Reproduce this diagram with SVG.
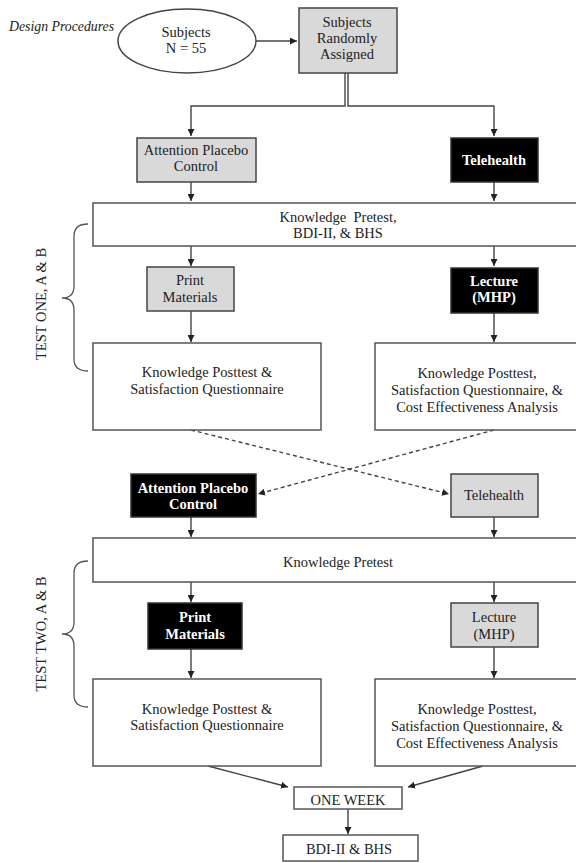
<svg xmlns="http://www.w3.org/2000/svg" width="576" height="863" viewBox="0 0 576 863">
<defs>
<marker id="ah" viewBox="0 0 10 10" refX="10" refY="5" markerWidth="7" markerHeight="7" markerUnits="userSpaceOnUse" orient="auto">
<path d="M0,0 L10,5 L0,10 z" fill="#222"/>
</marker>
<style>
text{font-family:"Liberation Serif","Times New Roman",serif;font-size:14.5px;fill:#222;text-anchor:middle}
.b{font-weight:bold;fill:#fff}
.it{font-style:italic;text-anchor:start;font-size:13.8px}
.pre{white-space:pre}
.gray{fill:#d9d9d9;stroke:#444;stroke-width:1.5}
.blk{fill:#000;stroke:#333;stroke-width:1.5}
.wht{fill:#fff;stroke:#555;stroke-width:1.5}
.c{fill:none;stroke:#444;stroke-width:1.4}
.d{fill:none;stroke:#444;stroke-width:1.4;stroke-dasharray:4 3}
.br{fill:none;stroke:#555;stroke-width:1.3}
</style>
</defs>
<rect width="576" height="863" fill="#fff"/>
<text class="it" x="9" y="31">Design Procedures</text>
<g id="connectors">
<path class="c" d="M256,41 H297" marker-end="url(#ah)"/>
<path class="c" d="M345,73 V106 H191 V136" marker-end="url(#ah)"/>
<path class="c" d="M348,73 V106 H494 V136" marker-end="url(#ah)"/>
<path class="c" d="M191,182 V201" marker-end="url(#ah)"/>
<path class="c" d="M494,182 V201" marker-end="url(#ah)"/>
<path class="c" d="M191,246 V266" marker-end="url(#ah)"/>
<path class="c" d="M494,246 V266" marker-end="url(#ah)"/>
<path class="c" d="M191,311 V342" marker-end="url(#ah)"/>
<path class="c" d="M494,313 V342" marker-end="url(#ah)"/>
<path class="d" d="M191,430 L449,494" marker-end="url(#ah)"/>
<path class="d" d="M494,430 L258,494" marker-end="url(#ah)"/>
<path class="c" d="M191,517 V537" marker-end="url(#ah)"/>
<path class="c" d="M494,517 V537" marker-end="url(#ah)"/>
<path class="c" d="M191,582 V602" marker-end="url(#ah)"/>
<path class="c" d="M494,582 V602" marker-end="url(#ah)"/>
<path class="c" d="M191,649 V678" marker-end="url(#ah)"/>
<path class="c" d="M494,647 V678" marker-end="url(#ah)"/>
<path class="c" d="M208,766 L288,787" marker-end="url(#ah)"/>
<path class="c" d="M483,766 L408,787" marker-end="url(#ah)"/>
<path class="c" d="M348,809 V834" marker-end="url(#ah)"/>
</g>
<g id="brace1">
<path class="br" d="M88,224 C78,224 74,228 74,236 V286 C74,294 70,298 62,298 C70,298 74,302 74,310 V359 C74,367 78,371 88,371"/>
<text transform="translate(46,304) rotate(-90)">TEST ONE, A &amp; B</text>
</g>
<g id="brace2">
<path class="br" d="M88,561 C78,561 74,565 74,573 V622 C74,630 70,634 62,634 C70,634 74,638 74,646 V695 C74,703 78,707 88,707"/>
<text transform="translate(46,634) rotate(-90)">TEST TWO, A &amp; B</text>
</g>
<g id="subjects">
<ellipse cx="187" cy="41" rx="69" ry="32" fill="#fff" stroke="#444" stroke-width="1.5"/>
<text x="186" y="37">Subjects</text>
<text x="186" y="53">N = 55</text>
</g>
<g id="assigned">
<rect class="gray" x="299" y="8" width="98" height="65"/>
<text x="347" y="27">Subjects</text>
<text x="347" y="43">Randomly</text>
<text x="347" y="59">Assigned</text>
</g>
<g id="apc1">
<rect class="gray" x="137" y="138" width="119" height="44"/>
<text x="196" y="155">Attention Placebo</text>
<text x="196" y="171">Control</text>
</g>
<g id="tele1">
<rect class="blk" x="451" y="138" width="87" height="44"/>
<text class="b" x="494" y="165">Telehealth</text>
</g>
<g id="pretest1">
<rect class="wht" x="93" y="203" width="484" height="43"/>
<text class="pre" x="338" y="222">Knowledge  Pretest,</text>
<text x="338" y="238">BDI-II, &amp; BHS</text>
</g>
<g id="print1">
<rect class="gray" x="147" y="267" width="87" height="44"/>
<text x="190" y="285">Print</text>
<text x="190" y="302">Materials</text>
</g>
<g id="lecture1">
<rect class="blk" x="451" y="268" width="87" height="45"/>
<text class="b" x="494" y="286">Lecture</text>
<text class="b" x="494" y="302">(MHP)</text>
</g>
<g id="post1a">
<rect class="wht" x="93" y="343" width="228" height="87"/>
<text x="207" y="377">Knowledge Posttest &amp;</text>
<text x="207" y="394">Satisfaction Questionnaire</text>
</g>
<g id="post1b">
<rect class="wht" x="375" y="343" width="202" height="87"/>
<text x="477" y="378">Knowledge Posttest,</text>
<text x="477" y="395">Satisfaction Questionnaire, &amp;</text>
<text x="477" y="412">Cost Effectiveness Analysis</text>
</g>
<g id="apc2">
<rect class="blk" x="131" y="474" width="125" height="43"/>
<text class="b" x="193" y="493">Attention Placebo</text>
<text class="b" x="193" y="509">Control</text>
</g>
<g id="tele2">
<rect class="gray" x="451" y="474" width="87" height="43"/>
<text x="494" y="500">Telehealth</text>
</g>
<g id="pretest2">
<rect class="wht" x="93" y="538" width="484" height="44"/>
<text x="338" y="567">Knowledge Pretest</text>
</g>
<g id="print2">
<rect class="blk" x="148" y="603" width="94" height="46"/>
<text class="b" x="195" y="622">Print</text>
<text class="b" x="195" y="639">Materials</text>
</g>
<g id="lecture2">
<rect class="gray" x="451" y="603" width="87" height="44"/>
<text x="494" y="622">Lecture</text>
<text x="494" y="639">(MHP)</text>
</g>
<g id="post2a">
<rect class="wht" x="93" y="679" width="228" height="87"/>
<text x="207" y="714">Knowledge Posttest &amp;</text>
<text x="207" y="730">Satisfaction Questionnaire</text>
</g>
<g id="post2b">
<rect class="wht" x="375" y="679" width="202" height="87"/>
<text x="477" y="714">Knowledge Posttest,</text>
<text x="477" y="731">Satisfaction Questionnaire, &amp;</text>
<text x="477" y="748">Cost Effectiveness Analysis</text>
</g>
<g id="oneweek">
<rect class="wht" x="294" y="787" width="108" height="22"/>
<text x="348" y="805">ONE WEEK</text>
</g>
<g id="bdi">
<rect class="wht" x="283" y="835" width="135" height="26"/>
<text x="349" y="854">BDI-II &amp; BHS</text>
</g>
</svg>
